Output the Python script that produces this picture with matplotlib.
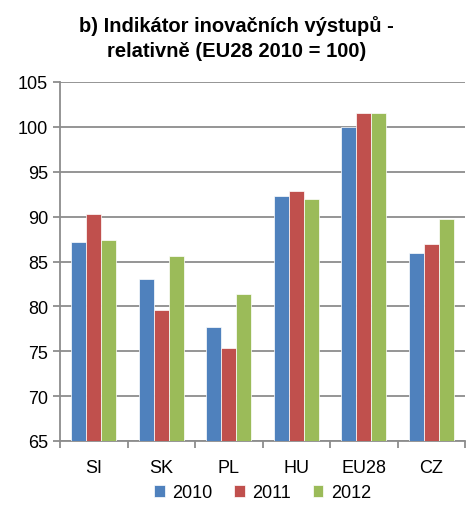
import matplotlib.pyplot as plt
import numpy as np

plt.rcParams['font.family'] = ['Liberation Sans', 'DejaVu Sans']

countries = ['SI', 'SK', 'PL', 'HU', 'EU28', 'CZ']
years = ['2010', '2011', '2012']
v2010 = [87.2, 83.1, 77.7, 92.3, 100.0, 85.9]
v2011 = [90.3, 79.6, 75.4, 92.9, 101.6, 86.9]
v2012 = [87.4, 85.6, 81.4, 92.0, 101.5, 89.7]
colors = ['#4F81BD', '#C0504D', '#9BBB59']

fig = plt.figure(figsize=(4.69, 5.06), dpi=100)
ax = fig.add_axes([60/469, 64/506, 405/469, 359/506])

x = np.arange(len(countries))
w = 0.222
for i, (vals, lab) in enumerate(zip([v2010, v2011, v2012], years)):
    ax.bar(x + (i-1)*w, np.array(vals) - 65, w, bottom=65, color=colors[i],
           edgecolor='white', linewidth=0.5, label=lab, zorder=3)

ax.set_ylim(65, 105)
ax.set_xlim(-0.5, len(countries) - 0.5)
ax.set_yticks(np.arange(65, 106, 5))
ax.grid(axis='y', color='#8c8c8c', linewidth=1.3, zorder=0)
ax.set_xticks(x)
ax.set_xticklabels(countries, fontsize=13)
ax.set_xticks(np.arange(-0.5, len(countries)), minor=True)
ax.tick_params(axis='x', which='major', length=0, pad=13)
ax.tick_params(axis='x', which='minor', length=5, color='#8c8c8c', width=1.3)
ax.tick_params(axis='y', labelsize=13, length=5, color='#8c8c8c', width=1.3)
for s in ['top', 'right']:
    ax.spines[s].set_visible(False)
for s in ['left', 'bottom']:
    ax.spines[s].set_color('#8c8c8c')
    ax.spines[s].set_linewidth(1.3)

fig.text(0.505, 1 - 39/506, 'b) Indikátor inovačních výstupů -\nrelativně (EU28 2010 = 100)',
         ha='center', va='center', fontsize=14.5, fontweight='bold', linespacing=1.4)

ax.legend(loc='center', bbox_to_anchor=(0.5, (442 - 494) / 359), ncol=3, frameon=False,
          fontsize=13, handlelength=0.6, handleheight=0.6, handletextpad=0.4,
          columnspacing=1.2)

fig.savefig('out.png', dpi=100)
